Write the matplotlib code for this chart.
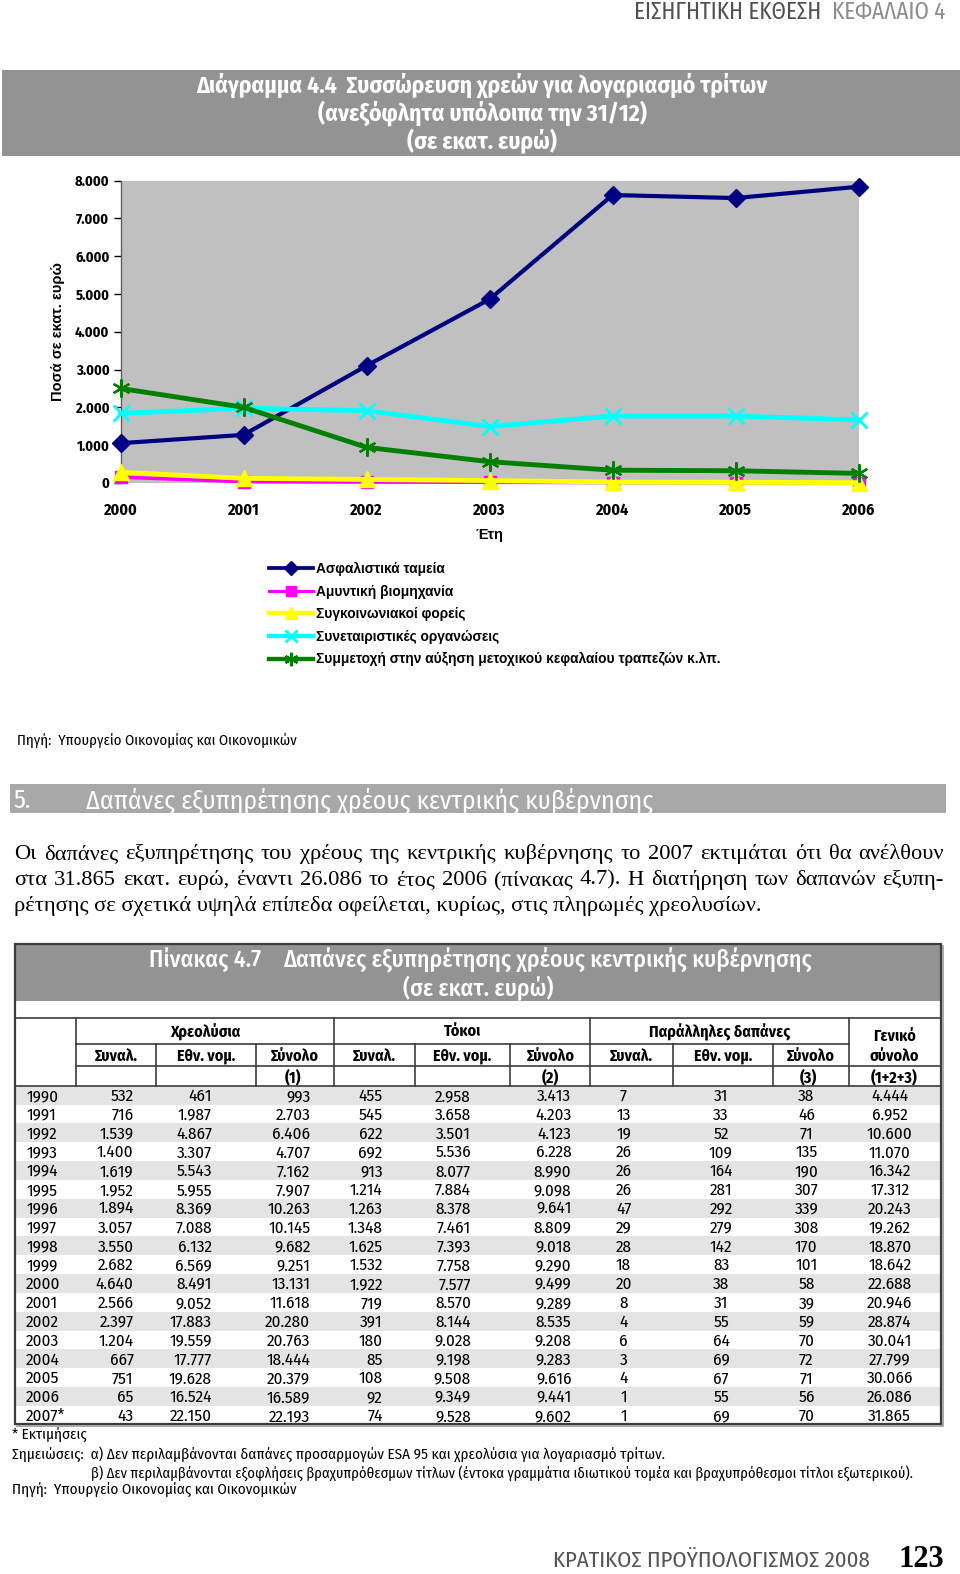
import matplotlib
matplotlib.use("Agg")
import matplotlib.pyplot as plt
from matplotlib.lines import Line2D
from matplotlib.patches import Rectangle

# fonts: Arial Narrow look-alike, with fallbacks
NARROW = ["Fira Sans Condensed", "DejaVu Sans"]
SANS = ["Liberation Sans", "DejaVu Sans"]
SERIF = ["Liberation Serif", "DejaVu Serif"]
DY = 1  # va="center" sits slightly high for these fonts

# ---------------------------------------------------------------------------
# chart data (Διάγραμμα 4.4)
# ---------------------------------------------------------------------------
chart_years = [2000, 2001, 2002, 2003, 2004, 2005, 2006]
asfalistika = [1050, 1270, 3100, 4860, 7620, 7540, 7840]
amyntiki = [150, 30, 20, 15, 5, 5, 0]
sygkoinoniakoi = [280, 120, 90, 60, 20, 15, 5]
synetairistikes = [1840, 1975, 1910, 1490, 1770, 1770, 1665]
symmetoxi = [2500, 2000, 940, 560, 335, 320, 250]

series_labels = [
    "Ασφαλιστικά ταμεία",
    "Αμυντική βιομηχανία",
    "Συγκοινωνιακοί φορείς",
    "Συνεταιριστικές οργανώσεις",
    "Συμμετοχή στην αύξηση μετοχικού κεφαλαίου τραπεζών κ.λπ.",
]
y_ticks = [0, 1000, 2000, 3000, 4000, 5000, 6000, 7000, 8000]

# ---------------------------------------------------------------------------
# table data (Πίνακας 4.7)
# ---------------------------------------------------------------------------
table_years = ["1990", "1991", "1992", "1993", "1994", "1995", "1996", "1997", "1998",
               "1999", "2000", "2001", "2002", "2003", "2004", "2005", "2006", "2007*"]
chreo_synal = [532, 716, 1539, 1400, 1619, 1952, 1894, 3057, 3550, 2682, 4640, 2566, 2397, 1204, 667, 751, 65, 43]
chreo_ethn = [461, 1987, 4867, 3307, 5543, 5955, 8369, 7088, 6132, 6569, 8491, 9052, 17883, 19559, 17777, 19628, 16524, 22150]
chreo_total = [993, 2703, 6406, 4707, 7162, 7907, 10263, 10145, 9682, 9251, 13131, 11618, 20280, 20763, 18444, 20379, 16589, 22193]
tokoi_synal = [455, 545, 622, 692, 913, 1214, 1263, 1348, 1625, 1532, 1922, 719, 391, 180, 85, 108, 92, 74]
tokoi_ethn = [2958, 3658, 3501, 5536, 8077, 7884, 8378, 7461, 7393, 7758, 7577, 8570, 8144, 9028, 9198, 9508, 9349, 9528]
tokoi_total = [3413, 4203, 4123, 6228, 8990, 9098, 9641, 8809, 9018, 9290, 9499, 9289, 8535, 9208, 9283, 9616, 9441, 9602]
par_synal = [7, 13, 19, 26, 26, 26, 47, 29, 28, 18, 20, 8, 4, 6, 3, 4, 1, 1]
par_ethn = [31, 33, 52, 109, 164, 281, 292, 279, 142, 83, 38, 31, 55, 64, 69, 67, 55, 69]
par_total = [38, 46, 71, 135, 190, 307, 339, 308, 170, 101, 58, 39, 59, 70, 72, 71, 56, 70]
grand_total = [4444, 6952, 10600, 11070, 16342, 17312, 20243, 19262, 18870, 18642, 22688, 20946, 28874, 30041, 27799, 30066, 26086, 31865]

group_headers = ["Χρεολύσια", "Τόκοι", "Παράλληλες δαπάνες"]
sub_headers = ["Συναλ.", "Εθν. νομ.", "Σύνολο"]
sum_marks = ["(1)", "(2)", "(3)", "(1+2+3)"]

paragraph = [
    "Οι δαπάνες εξυπηρέτησης του χρέους της κεντρικής κυβέρνησης το 2007 εκτιμάται ότι θα ανέλθουν",
    "στα 31.865 εκατ. ευρώ, έναντι 26.086 το έτος 2006 (πίνακας 4.7). Η διατήρηση των δαπανών εξυπη-",
    "ρέτησης σε σχετικά υψηλά επίπεδα οφείλεται, κυρίως, στις πληρωμές χρεολυσίων.",
]


def dotted(v):
    return f"{v:,}".replace(",", ".")


# ---------------------------------------------------------------------------
# page canvas; layout coordinates are in a 956 x 1568 page grid
# ---------------------------------------------------------------------------
W, H = 960, 1574
PW, PH = 956, 1568
fig = plt.figure(figsize=(W / 100, H / 100), dpi=100)
fig.patch.set_facecolor("white")
pg = fig.add_axes([0, 0, 1, 1])
pg.set_xlim(0, PW)
pg.set_ylim(PH, 0)
pg.axis("off")
renderer = fig.canvas.get_renderer()
PX = PW / W  # page units per output pixel

GRAY_BOX = "#939393"

# running header
t = pg.text(941, 19, "ΚΕΦΑΛΑΙΟ 4", family=NARROW, fontsize=16.6, color="#8c8c8c",
            ha="right", va="baseline")
x_left = t.get_window_extent(renderer).x0 * PX
pg.text(x_left - 10, 19, "ΕΙΣΗΓΗΤΙΚΗ ΕΚΘΕΣΗ", family=NARROW, fontsize=16.6,
        color="#505050", ha="right", va="baseline")

# chart title box
pg.add_patch(Rectangle((2, 70), 954, 85, facecolor=GRAY_BOX, edgecolor="none"))
for yy, s in [(85, "Διάγραμμα 4.4  Συσσώρευση χρεών για λογαριασμό τρίτων"),
              (113, "(ανεξόφλητα υπόλοιπα την 31/12)"),
              (141, "(σε εκατ. ευρώ)")]:
    pg.text(480, yy, s, family=NARROW, fontsize=17, fontweight="bold", color="white",
            ha="center", va="center")

# ---------------------------------------------------------------------------
# line chart
# ---------------------------------------------------------------------------
ax = fig.add_axes([120 / PW, 1 - 481 / PH, 735 / PW, 301 / PH], zorder=3)
ax.set_facecolor("#c0c0c0")

ast = (6, 2, 0)
styles = [
    (asfalistika, "#000080", "D", 9, 3.0, 1.0),
    (amyntiki, "#ff00ff", "s", 9, 2.5, 1.0),
    (sygkoinoniakoi, "#ffff00", "^", 11, 3.5, 1.0),
    (synetairistikes, "#00ffff", "x", 11, 3.5, 2.0),
    (symmetoxi, "#008000", ast, 13, 3.5, 1.6),
]
handles = []
for (vals, col, mk, ms, lw, mew), lab in zip(styles, series_labels):
    ax.plot(chart_years, vals, color=col, marker=mk, markersize=ms, lw=lw,
            markeredgewidth=mew, markeredgecolor=col, clip_on=False, zorder=4)
    handles.append(Line2D([], [], color=col, marker=mk, markersize=ms * 0.75, lw=lw * 0.9,
                          markeredgewidth=mew, markeredgecolor=col))

ax.set_xlim(2000, 2006)
ax.set_ylim(0, 8000)
ax.set_xticks(chart_years)
ax.set_xticklabels([str(y) for y in chart_years], family=NARROW, fontsize=11.5,
                   fontweight="bold")
ax.set_yticks(y_ticks)
ax.set_yticklabels([dotted(v) for v in y_ticks], family=NARROW, fontsize=10.4,
                   fontweight="bold")
ax.tick_params(axis="x", length=0, pad=14)
ax.tick_params(axis="y", length=5, width=1, pad=3, color="#000000")
for side in ["top", "right", "bottom"]:
    ax.spines[side].set_visible(False)
ax.spines["left"].set_linewidth(1)
ax.spines["left"].set_color("#606060")

ax.set_xlabel("Έτη", family=SANS, fontsize=10.5, fontweight="bold", va="center")
ax.xaxis.set_label_coords(368 / 735, -52 / 301)
ax.set_ylabel("Ποσά σε εκατ. ευρώ", family=SANS, fontsize=10.5, fontweight="bold",
              va="center")
ax.yaxis.set_label_coords(-62 / 735, 0.5)

ax.legend(handles, series_labels, loc="upper left",
          bbox_to_anchor=(268 / PW, 1 - 560 / PH), bbox_transform=fig.transFigure,
          frameon=False, borderpad=0, borderaxespad=0, handlelength=3.2,
          handletextpad=0.2, labelspacing=0.62,
          prop={"family": SANS, "size": 9.9, "weight": "bold"})

pg.text(17, 738 + DY, "Πηγή:  Υπουργείο Οικονομίας και Οικονομικών", family=NARROW,
        fontsize=10.7, ha="left", va="center")

# ---------------------------------------------------------------------------
# section heading and paragraph
# ---------------------------------------------------------------------------
pg.add_patch(Rectangle((10, 781), 932, 29, facecolor="#a8a8a8", edgecolor="none"))
pg.text(13, 797 + DY, "5.", family=NARROW, fontsize=18.7, color="white", ha="left",
        va="center")
pg.text(86, 797 + DY, "Δαπάνες εξυπηρέτησης χρέους κεντρικής κυβέρνησης", family=NARROW,
        fontsize=18.7, color="white", ha="left", va="center")


def justify(line, x0, x1, y, **kw):
    words = line.split(" ")
    texts = [pg.text(x0, y, w, ha="left", va="center", **kw) for w in words]
    widths = [tt.get_window_extent(renderer).width * PX for tt in texts]
    gap = (x1 - x0 - sum(widths)) / (len(words) - 1)
    x = x0
    for tt, w in zip(texts, widths):
        tt.set_x(x)
        x += w + gap


PSIZE = 16.2
justify(paragraph[0], 14, 940, 851, family=SERIF, fontsize=PSIZE)
justify(paragraph[1], 14, 940, 877, family=SERIF, fontsize=PSIZE)
pg.text(14, 903, paragraph[2], family=SERIF, fontsize=PSIZE, ha="left", va="center")

# ---------------------------------------------------------------------------
# table
# ---------------------------------------------------------------------------
TL, TR, TT, TB = 15, 937, 940, 1419
LINE = "#3c3c3c"
pg.add_patch(Rectangle((TL, TT), TR - TL, 57, facecolor=GRAY_BOX, edgecolor="none"))
ttl = dict(family=NARROW, fontsize=17.2, fontweight="medium", color="white", va="center")
pg.text(148, 956 + DY, "Πίνακας 4.7", ha="left", **ttl)
pg.text(282, 956 + DY, "Δαπάνες εξυπηρέτησης χρέους κεντρικής κυβέρνησης", ha="left", **ttl)
pg.text(476, 984 + DY, "(σε εκατ. ευρώ)", ha="center", **ttl)

row0, step = 1091, 18.76
for i in range(len(table_years)):
    if i % 2 == 0:
        pg.add_patch(Rectangle((TL, row0 + i * step - step / 2), TR - TL, step,
                               facecolor="#e4e4e4", edgecolor="none"))

pg.plot([TL, TR], [1014, 1014], color=LINE, lw=1.2)
pg.plot([76, 845], [1040, 1040], color=LINE, lw=1.2)
pg.plot([76, TR], [1062, 1062], color=LINE, lw=1.2)
pg.plot([TL, TR], [1082, 1082], color=LINE, lw=1.2)
for x in [76, 333, 588, 845]:
    pg.plot([x, x], [1014, 1082], color=LINE, lw=1.2)
for x in [155, 255, 413, 508, 670, 770]:
    pg.plot([x, x], [1040, 1082], color=LINE, lw=1.2)
pg.add_patch(Rectangle((TL, TT), TR - TL, TB - TT, facecolor="none", edgecolor=LINE, lw=1.6))
pg.plot([TL + 2, TR + 2, TR + 2], [TB + 2, TB + 2, TT + 2], color="#9a9a9a", lw=1.2)

hdr = dict(family=NARROW, fontsize=11.5, fontweight="bold", ha="center", va="center")
for (a, b), s in zip([(76, 333), (333, 588), (588, 845)], group_headers):
    pg.text((a + b) / 2, 1027 + DY, s, **hdr)
pg.text(891, 1032 + DY, "Γενικό", **hdr)
pg.text(891, 1051 + DY, "σύνολο", **hdr)
sub_edges = [(76, 155), (155, 255), (255, 333), (333, 413), (413, 508), (508, 588),
             (588, 670), (670, 770), (770, 845)]
for k, (a, b) in enumerate(sub_edges):
    pg.text((a + b) / 2, 1051 + DY, sub_headers[k % 3], **hdr)
for xm, s in zip([292, 548, 805, 890], sum_marks):
    pg.text(xm, 1072 + DY, s, **hdr)

columns = [chreo_synal, chreo_ethn, chreo_total, tokoi_synal, tokoi_ethn, tokoi_total,
           par_synal, par_ethn, par_total, grand_total]
col_pos = [(133, "right"), (211, "right"), (309, "right"), (381, "right"), (469, "right"),
           (569, "right"), (621, "center"), (718, "center"), (803, "center"), (886, "center")]
cell = dict(family=NARROW, fontsize=12.3, va="center")
for i, yr in enumerate(table_years):
    y = row0 + i * step + DY
    pg.text(26, y, yr, ha="left", **cell)
    for vals, (xp, al) in zip(columns, col_pos):
        pg.text(xp, y, dotted(vals[i]), ha=al, **cell)

# footnotes
fn = dict(family=NARROW, fontsize=10.9, ha="left", va="center")
pg.text(12, 1429 + DY, "* Εκτιμήσεις", **fn)
pg.text(12, 1448 + DY, "Σημειώσεις:  α) Δεν περιλαμβάνονται δαπάνες προσαρμογών ESA 95 και "
        "χρεολύσια για λογαριασμό τρίτων.", **fn)
pg.text(91, 1466 + DY, "β) Δεν περιλαμβάνονται εξοφλήσεις βραχυπρόθεσμων τίτλων (έντοκα "
        "γραμμάτια ιδιωτικού τομέα και βραχυπρόθεσμοι τίτλοι εξωτερικού).",
        **{**fn, "fontsize": 10.5})
pg.text(12, 1484 + DY, "Πηγή:  Υπουργείο Οικονομίας και Οικονομικών", **fn)

# page footer
pg.text(866, 1561, "ΚΡΑΤΙΚΟΣ ΠΡΟΫΠΟΛΟΓΙΣΜΟΣ 2008", family=NARROW, fontsize=16.4,
        color="#555555", ha="right", va="baseline")
pg.text(940, 1561, "123", family=SERIF, fontsize=22, fontweight="bold", ha="right",
        va="baseline")

fig.savefig("out.png", dpi=100)
